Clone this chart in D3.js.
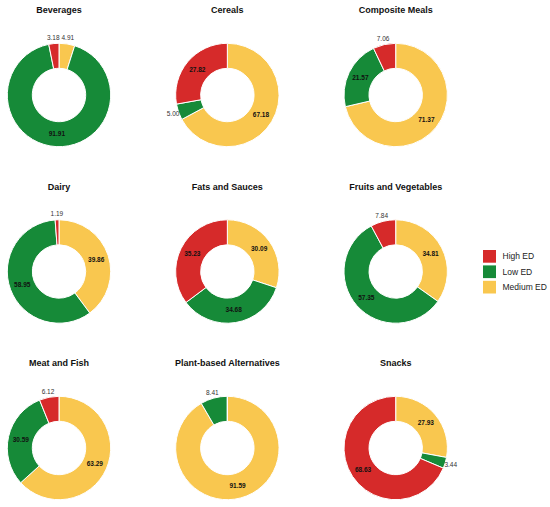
<!DOCTYPE html>
<html>
<head>
<meta charset="utf-8">
<script src="https://cdn.jsdelivr.net/npm/d3@7"></script>
<style>
  body { margin: 0; background: #fff; }
  svg { font-family: "Liberation Sans", Arial, Helvetica, sans-serif; }
</style>
</head>
<body>
<div id="chart"></div>
<script>
"use strict";

// chart data, one value per category (percent of products)
const categories = ["Beverages", "Cereals", "Composite Meals",
    "Dairy", "Fats and Sauces", "Fruits and Vegetables",
    "Meat and Fish", "Plant-based Alternatives", "Snacks"];
const highED   = [3.18, 27.82, 7.06, 1.19, 35.23, 7.84, 6.12, 0, 68.63];
const lowED    = [91.91, 5.00, 21.57, 58.95, 34.68, 57.35, 30.59, 8.41, 3.44];
const mediumED = [4.91, 67.18, 71.37, 39.86, 30.09, 34.81, 63.29, 91.59, 27.93];

const groups = ["High ED", "Low ED", "Medium ED"];
const colors = ["#d62a2a", "#168a38", "#f9c74f"];

const width = 550, height = 507;
const outerR = 51.7, innerR = 26.7, labelR = 57.5;

const svg = d3.select("#chart")
    .append("svg")
    .attr("width", width)
    .attr("height", height);

// grid positions for the small multiples
const colX = d3.scalePoint().domain([0, 1, 2]).range([59, 395.7]);
const rowY = d3.scalePoint().domain([0, 1, 2]).range([95, 448]);

const color = d3.scaleOrdinal().domain(groups).range(colors);

// slices drawn clockwise from top: Medium, Low, High
const pie = d3.pie().sort(null).value(d => d.value);
const arc = d3.arc().innerRadius(innerR).outerRadius(outerR);
const outerArc = d3.arc().innerRadius(labelR).outerRadius(labelR);

categories.forEach((cat, i) => {
    const slices = [
        { key: "Medium ED", value: mediumED[i] },
        { key: "Low ED", value: lowED[i] },
        { key: "High ED", value: highED[i] }
    ];

    const g = svg.append("g")
        .attr("transform", `translate(${colX(i % 3)}, ${rowY(Math.floor(i / 3))})`);

    g.append("text")
        .attr("y", -82)
        .attr("text-anchor", "middle")
        .attr("font-size", 9)
        .attr("font-weight", "bold")
        .attr("fill", "#111")
        .text(cat);

    const arcs = pie(slices);

    g.selectAll("path")
        .data(arcs)
        .join("path")
        .attr("d", arc)
        .attr("fill", d => color(d.data.key))
        .attr("stroke", "#fff")
        .attr("stroke-width", 1);

    // small shares go outside the ring, the rest at the slice centroid
    g.selectAll("text.val")
        .data(arcs.filter(d => d.data.value > 0))
        .join("text")
        .attr("class", "val")
        .attr("transform", d => {
            const p = d.data.value < 10 ? outerArc.centroid(d) : arc.centroid(d);
            return `translate(${p[0]}, ${p[1]})`;
        })
        .attr("text-anchor", "middle")
        .attr("dy", "0.35em")
        .attr("font-size", 6.5)
        .attr("font-weight", d => d.data.value < 10 ? "normal" : "bold")
        .attr("fill", d => d.data.value < 10 ? "#333" : "#111")
        .text(d => d.data.value.toFixed(2));
});

// legend
const legend = svg.append("g")
    .attr("transform", "translate(483, 250)");

const item = legend.selectAll("g")
    .data(groups)
    .join("g")
    .attr("transform", (d, i) => `translate(0, ${i * 15.4})`);

item.append("rect")
    .attr("width", 13)
    .attr("height", 12.7)
    .attr("fill", d => color(d));

item.append("text")
    .attr("x", 19.5)
    .attr("y", 6.5)
    .attr("dy", "0.35em")
    .attr("font-size", 8.5)
    .attr("fill", "#222")
    .text(d => d);
</script>
</body>
</html>
